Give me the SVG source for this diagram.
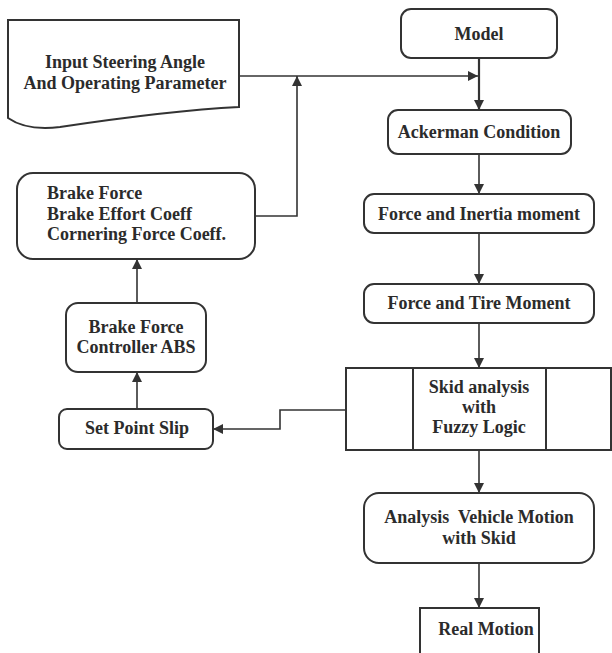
<svg xmlns="http://www.w3.org/2000/svg" width="612" height="653" viewBox="0 0 612 653">
<defs>
<style>
.box{fill:#fff;stroke:#333;stroke-width:2}
.c{fill:none;stroke:#333;stroke-width:1.6}
.ct{fill:none;stroke:#333;stroke-width:2.2}
</style>
<marker id="ah" viewBox="0 0 10 10" refX="10" refY="5" markerWidth="10" markerHeight="10" markerUnits="userSpaceOnUse" orient="auto">
<path d="M0,0 L10,5 L0,10 z" fill="#333"/>
</marker>
</defs>
<rect width="612" height="653" fill="#fff"/>

<g id="connectors">
<path class="c" d="M239,76 H478" marker-end="url(#ah)"/>
<path class="ct" d="M479,58 V110" marker-end="url(#ah)"/>
<path class="c" d="M479,154 V194" marker-end="url(#ah)"/>
<path class="c" d="M479,233 V284" marker-end="url(#ah)"/>
<path class="c" d="M479,323 V368" marker-end="url(#ah)"/>
<path class="c" d="M479,450 V493" marker-end="url(#ah)"/>
<path class="c" d="M479,563 V608" marker-end="url(#ah)"/>
<path class="c" d="M346,410 H280 V429 H213" marker-end="url(#ah)"/>
<path class="c" d="M137,409 V372" marker-end="url(#ah)"/>
<path class="c" d="M137,303 V259" marker-end="url(#ah)"/>
<path class="c" d="M255,216 H297 V76" marker-end="url(#ah)"/>
</g>

<g id="input">
<path class="box" d="M8,20 H239 V107 C180,110 120,118 60,127 C35,130 18,125 8,118 Z"/>
<text font-family="Liberation Serif" font-weight="bold" font-size="18" fill="#2b2b2b" text-anchor="middle" x="125" y="68">Input Steering Angle</text>
<text font-family="Liberation Serif" font-weight="bold" font-size="18" fill="#2b2b2b" text-anchor="middle" x="125" y="89">And Operating Parameter</text>
</g>

<g id="model">
<rect class="box" x="401" y="9" width="156" height="49" rx="10"/>
<text font-family="Liberation Serif" font-weight="bold" font-size="18" fill="#2b2b2b" text-anchor="middle" x="479" y="40">Model</text>
</g>

<g id="ackerman">
<rect class="box" x="388" y="110" width="183" height="44" rx="10"/>
<text font-family="Liberation Serif" font-weight="bold" font-size="18" fill="#2b2b2b" text-anchor="middle" x="479" y="138">Ackerman Condition</text>
</g>

<g id="inertia">
<rect class="box" x="364" y="194" width="230" height="39" rx="10"/>
<text font-family="Liberation Serif" font-weight="bold" font-size="18" fill="#2b2b2b" text-anchor="middle" x="479" y="220">Force and Inertia moment</text>
</g>

<g id="tire">
<rect class="box" x="364" y="284" width="230" height="39" rx="10"/>
<text font-family="Liberation Serif" font-weight="bold" font-size="18" fill="#2b2b2b" text-anchor="middle" x="479" y="309">Force and Tire Moment</text>
</g>

<g id="skid">
<rect class="box" x="346" y="368" width="265" height="82"/>
<line class="box" x1="413" y1="368" x2="413" y2="450"/>
<line class="box" x1="546" y1="368" x2="546" y2="450"/>
<text font-family="Liberation Serif" font-weight="bold" font-size="18" fill="#2b2b2b" text-anchor="middle" x="479" y="393">Skid analysis</text>
<text font-family="Liberation Serif" font-weight="bold" font-size="18" fill="#2b2b2b" text-anchor="middle" x="479" y="413">with</text>
<text font-family="Liberation Serif" font-weight="bold" font-size="18" fill="#2b2b2b" text-anchor="middle" x="479" y="433">Fuzzy Logic</text>
</g>

<g id="analysis">
<rect class="box" x="364" y="493" width="230" height="70" rx="15"/>
<text font-family="Liberation Serif" font-weight="bold" font-size="18" fill="#2b2b2b" text-anchor="middle" x="479" y="523" xml:space="preserve">Analysis  Vehicle Motion</text>
<text font-family="Liberation Serif" font-weight="bold" font-size="18" fill="#2b2b2b" text-anchor="middle" x="479" y="544">with Skid</text>
</g>

<g id="real">
<path class="box" d="M420,660 V608 H539 V660"/>
<text font-family="Liberation Serif" font-weight="bold" font-size="18" fill="#2b2b2b" text-anchor="middle" x="486" y="635">Real Motion</text>
</g>

<g id="setpoint">
<rect class="box" x="59" y="409" width="154" height="40" rx="8"/>
<text font-family="Liberation Serif" font-weight="bold" font-size="18" fill="#2b2b2b" text-anchor="middle" x="137" y="434">Set Point Slip</text>
</g>

<g id="controller">
<rect class="box" x="66" y="303" width="140" height="69" rx="12"/>
<text font-family="Liberation Serif" font-weight="bold" font-size="18" fill="#2b2b2b" text-anchor="middle" x="136" y="333">Brake Force</text>
<text font-family="Liberation Serif" font-weight="bold" font-size="18" fill="#2b2b2b" text-anchor="middle" x="136" y="353">Controller ABS</text>
</g>

<g id="brake">
<rect class="box" x="17" y="173" width="238" height="86" rx="16"/>
<text font-family="Liberation Serif" font-weight="bold" font-size="18" fill="#2b2b2b" x="47" y="199">Brake Force</text>
<text font-family="Liberation Serif" font-weight="bold" font-size="18" fill="#2b2b2b" x="47" y="220">Brake Effort Coeff</text>
<text font-family="Liberation Serif" font-weight="bold" font-size="18" fill="#2b2b2b" x="47" y="240">Cornering Force Coeff.</text>
</g>
</svg>
